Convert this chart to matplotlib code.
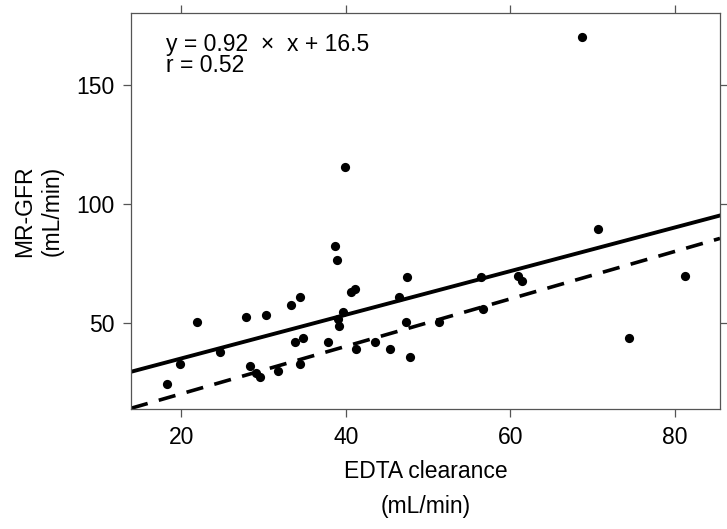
import numpy as np
import matplotlib
matplotlib.use("Agg")
import matplotlib.pyplot as plt

plt.rcParams['font.family'] = ['Liberation Sans', 'DejaVu Sans']

# EDTA clearance vs MR-GFR (mL/min)
edta = [18.3, 19.8, 21.9, 24.7, 27.9, 28.35, 29.1, 29.6, 30.3, 31.8,
        33.35, 34.45, 33.8, 34.85, 34.5, 37.8, 38.7, 38.9, 39.7, 39.1,
        39.2, 39.9, 40.65, 41.1, 41.25, 43.6, 45.4, 46.5, 47.5, 47.3,
        47.8, 51.3, 56.5, 56.7, 60.9, 61.4, 68.75, 70.7, 74.4, 81.2]
mr_gfr = [24.0, 32.4, 50.4, 37.8, 52.3, 31.8, 28.7, 27.0, 53.2, 29.8,
          57.4, 60.6, 41.8, 43.5, 32.6, 41.9, 82.1, 76.3, 54.6, 51.5,
          48.6, 115.7, 62.8, 64.2, 38.8, 41.7, 38.9, 60.9, 69.4, 50.2,
          35.4, 50.2, 69.1, 55.6, 69.7, 67.4, 170.4, 89.6, 43.6, 69.6]

slope = 0.92
intercept = 16.5
r_value = 0.52

FS = 16.5
W, H = 727, 529
fig = plt.figure(figsize=(W / 100, H / 100), dpi=100)
ax = fig.add_axes([131 / W, 1 - 409 / H, (720 - 131) / W, (409 - 13) / H])

ax.scatter(edta, mr_gfr, s=44, color='black', zorder=3, linewidths=0)
# fitted line and line of identity
ax.axline((0, intercept), slope=slope, color='black', lw=2.8)
ax.axline((0, 0), slope=1, color='black', lw=2.6, ls=(0, (4.8, 3.2)))

ax.set_xlim(13.9, 85.5)
ax.set_ylim(13.6, 180.5)
ax.set_xticks([20, 40, 60, 80])
ax.set_yticks([50, 100, 150])

frame_col = '#555555'
for sp in ax.spines.values():
    sp.set_color(frame_col)
    sp.set_linewidth(0.9)
ax.tick_params(direction='out', length=6, width=0.9, color=frame_col,
               labelsize=FS, pad=6, top=True, right=True)

fig.text(166 / W, 1 - 51 / H, "y = 0.92  \u00d7  x + 16.5", fontsize=FS,
         va='baseline', ha='left')
fig.text(166 / W, 1 - 72 / H, f"r = {r_value:.2f}", fontsize=FS,
         va='baseline', ha='left')

fig.text(426 / W, 1 - 471 / H, "EDTA clearance", fontsize=FS,
         ha='center', va='center')
fig.text(426 / W, 1 - 506 / H, "(mL/min)", fontsize=FS,
         ha='center', va='center')
fig.text(25 / W, 1 - 211 / H, "MR-GFR", fontsize=FS, rotation=90,
         ha='center', va='center')
fig.text(52 / W, 1 - 211 / H, "(mL/min)", fontsize=FS, rotation=90,
         ha='center', va='center')

fig.savefig("out.png", dpi=100)
